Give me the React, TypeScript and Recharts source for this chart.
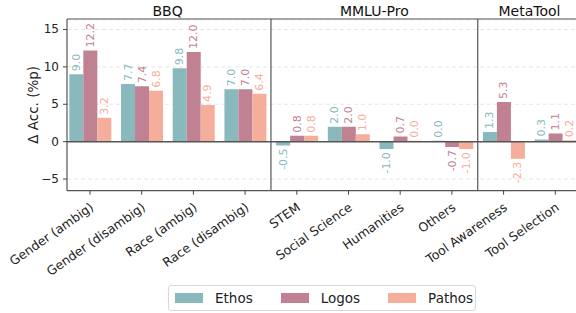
import React from 'react';
import { BarChart, Bar, XAxis, YAxis, CartesianGrid, ReferenceLine, LabelList } from 'recharts';

const categories = [
  'Gender (ambig)', 'Gender (disambig)', 'Race (ambig)', 'Race (disambig)',
  'STEM', 'Social Science', 'Humanities', 'Others',
  'Tool Awareness', 'Tool Selection',
];
const ethos = [9.0, 7.7, 9.8, 7.0, -0.5, 2.0, -1.0, 0.0, 1.3, 0.3];
const logos = [12.2, 7.4, 12.0, 7.0, 0.8, 2.0, 0.7, -0.7, 5.3, 1.1];
const pathos = [3.2, 6.8, 4.9, 6.4, 0.8, 1.0, 0.0, -1.0, -2.3, 0.2];
const yTicks = [-5, 0, 5, 10, 15];
const groups = [
  { name: 'BBQ', center: 1.5 },
  { name: 'MMLU-Pro', center: 5.5 },
  { name: 'MetaTool', center: 8.5 },
];
const dividers = [3.5, 7.5];

const series = [
  { key: 'Ethos', color: '#89b9bd', values: ethos },
  { key: 'Logos', color: '#c08293', values: logos },
  { key: 'Pathos', color: '#f5ae9b', values: pathos },
];

const data = categories.map((c, i) => ({
  name: c,
  idx: i,
  Ethos: ethos[i],
  Logos: logos[i],
  Pathos: pathos[i],
}));

const FONT = 'DejaVu Sans, sans-serif';

const makeLabel = (color: string) => (props: any) => {
  const { x, y, width, height, value } = props;
  const cx = x + width / 2;
  const top = Math.min(y, y + height);
  const bottom = Math.max(y, y + height);
  const neg = value < 0;
  const ay = neg ? bottom + 3 : top - 3;
  return (
    <text
      x={cx}
      y={ay}
      transform={`rotate(-90, ${cx}, ${ay})`}
      textAnchor={neg ? 'end' : 'start'}
      dominantBaseline="central"
      fill={color}
      fontSize={11}
      fontFamily={FONT}
    >
      {Number(value).toFixed(1)}
    </text>
  );
};

const XTick = (props: any) => {
  const { x, y, payload } = props;
  return (
    <g transform={`translate(${x},${y + 6})`}>
      <text
        x={0}
        y={0}
        dy={8}
        textAnchor="end"
        transform="rotate(-35)"
        fontSize={12.5}
        fontFamily={FONT}
        fill="#222"
      >
        {payload.value}
      </text>
    </g>
  );
};

const YTick = (props: any) => {
  const { x, y, payload } = props;
  const v = payload.value;
  const s = v < 0 ? '\u2212' + Math.abs(v) : String(v);
  return (
    <text x={x - 2} y={y} textAnchor="end" dominantBaseline="central" fontSize={12} fontFamily={FONT} fill="#222">
      {s}
    </text>
  );
};

export default function App() {
  return (
    <div style={{ position: 'fixed', left: 0, top: 0, width: 576, height: 313, overflow: 'hidden', background: '#fff' }}>
      <BarChart
        width={600}
        height={313}
        data={data}
        margin={{ top: 19, right: 21.7, bottom: 0, left: 0 }}
        barCategoryGap="10%"
        barGap={0}
      >
        <CartesianGrid vertical={false} stroke="#e6e6e6" strokeDasharray="4 3" />
        <XAxis
          dataKey="name"
          xAxisId="cat"
          height={122.3}
          padding={{ left: -2.85, right: -2.85 }}
          interval={0}
          tick={<XTick />}
          tickLine={{ stroke: '#444' }}
          tickSize={4}
          axisLine={{ stroke: '#555', strokeWidth: 1.2 }}
        />
        <XAxis
          xAxisId="num"
          dataKey="idx"
          type="number"
          domain={[-0.5, 9.5]}
          padding={{ left: -2.85, right: -2.85 }}
          hide
          allowDataOverflow
        />
        <YAxis
          width={67}
          domain={[-6.56, 16.4]}
          ticks={yTicks}
          allowDataOverflow
          tick={<YTick />}
          tickLine={{ stroke: '#444' }}
          tickSize={4}
          axisLine={{ stroke: '#555', strokeWidth: 1.2 }}
          label={{
            value: '\u0394 Acc. (%p)',
            angle: -90,
            position: 'insideLeft',
            dx: 28,
            dy: 0,
            style: { fontSize: 13.5, fontFamily: FONT, fill: '#222', textAnchor: 'middle' },
          }}
        />
        {series.map((s) => (
          <Bar key={s.key} dataKey={s.key} xAxisId="cat" fill={s.color} minPointSize={1} isAnimationActive={false}>
            <LabelList dataKey={s.key} content={makeLabel(s.color)} />
          </Bar>
        ))}
        <ReferenceLine y={0} xAxisId="cat" stroke="#555" strokeWidth={1.5} />
        <ReferenceLine y={16.4} xAxisId="cat" stroke="#555" strokeWidth={1.2} />
        {dividers.map((d) => (
          <ReferenceLine key={d} x={d} xAxisId="num" stroke="#555" strokeWidth={1.2} />
        ))}
        {groups.map((g) => (
          <ReferenceLine
            key={g.name}
            x={g.center}
            xAxisId="num"
            stroke="none"
            strokeOpacity={0}
            label={{
              value: g.name,
              position: 'top',
              offset: 3,
              style: { fontSize: 14, fontWeight: 'normal', fontFamily: FONT, fill: '#111' },
            }}
          />
        ))}
      </BarChart>
      <div
        style={{
          position: 'absolute',
          left: 168,
          top: 285,
          width: 308,
          height: 26,
          boxSizing: 'border-box',
          border: '1px solid #d8d8d8',
          borderRadius: 3,
          display: 'flex',
          alignItems: 'center',
          fontFamily: FONT,
          fontSize: 13.5,
          color: '#222',
        }}
      >
        {series.map((s, i) => (
          <div key={s.key} style={{ display: 'flex', alignItems: 'center', marginLeft: i === 0 ? 6 : 28 }}>
            <span style={{ display: 'inline-block', width: 28, height: 10, background: s.color, marginRight: 12 }} />
            <span>{s.key}</span>
          </div>
        ))}
      </div>
    </div>
  );
}
